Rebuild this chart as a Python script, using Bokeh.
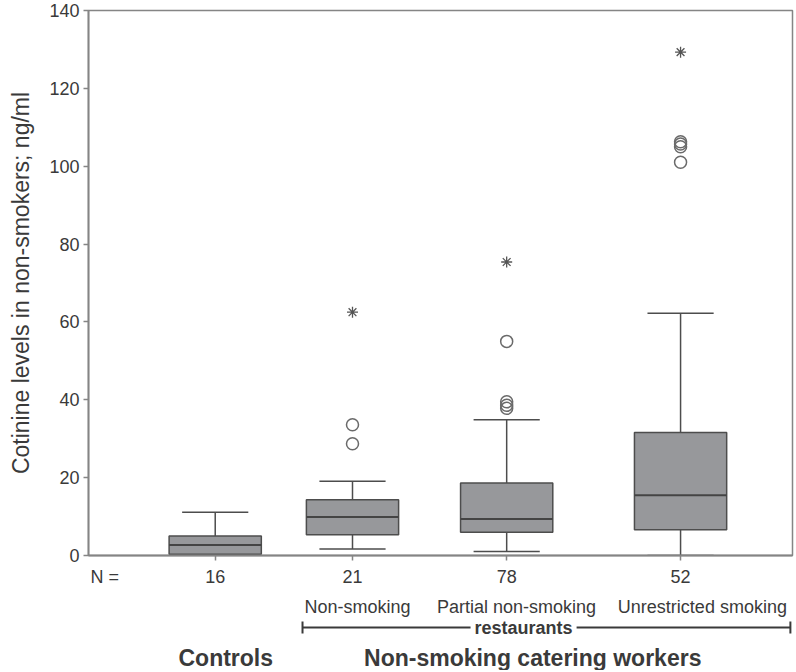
from bokeh.plotting import figure
from bokeh.models import Range1d, FixedTicker, ColumnDataSource
from bokeh.layouts import column
from bokeh.embed import file_html
from bokeh.resources import INLINE
from bokeh.core.properties import value
import numpy as np

# ---- data ----
groups = ["Controls", "Non-smoking", "Partial non-smoking", "Unrestricted smoking"]
n_counts = [16, 21, 78, 52]
whisker_low = [0.0, 1.7, 1.0, 0.0]
q1 = [0.3, 5.3, 6.0, 6.6]
median = [2.7, 9.9, 9.4, 15.5]
q3 = [5.0, 14.3, 18.6, 31.6]
whisker_high = [11.1, 19.1, 34.9, 62.2]

outlier_group = ["Non-smoking", "Non-smoking",
                 "Partial non-smoking", "Partial non-smoking", "Partial non-smoking", "Partial non-smoking",
                 "Unrestricted smoking", "Unrestricted smoking", "Unrestricted smoking", "Unrestricted smoking"]
outlier_value = [28.7, 33.6,
                 37.8, 38.6, 39.5, 55.0,
                 101.0, 105.0, 105.7, 106.3]
extreme_group = ["Non-smoking", "Partial non-smoking", "Unrestricted smoking"]
extreme_value = [62.5, 75.4, 129.3]

y_ticks = [0, 20, 40, 60, 80, 100, 120, 140]
sub_names = ["Non-smoking", "Partial non-smoking", "Unrestricted smoking"]
bracket_label = "restaurants"
group_titles = ["Controls", "Non-smoking catering workers"]

# ---- layout constants ----
W = 794
FRAME_L, FRAME_R, FRAME_T = 88, 2, 10
MAIN_H = 566
LOWER_H = 104

group_x = [18.0, 37.5, 59.4, 84.1]
pos = dict(zip(groups, group_x))
BOX_W = 13.1
CAP_HW = 4.7

FONT = "Liberation Sans"
TXT = "#3a3a3a"
AX = "#858585"
BOX_FILL = "#97989b"
BOX_LINE = "#4d4d4d"
MARK = "#6a6a6a"

p = figure(width=W, height=MAIN_H, output_backend="svg", toolbar_location=None,
           x_range=Range1d(0, 100), y_range=Range1d(0, 140))
p.min_border_left = FRAME_L
p.min_border_right = FRAME_R
p.min_border_top = FRAME_T
p.min_border_bottom = 11
p.xgrid.visible = False
p.ygrid.visible = False
p.outline_line_color = AX
p.outline_line_width = 1.5

gx = np.array(group_x)
src = ColumnDataSource(dict(x=gx, lo=whisker_low, q1=q1, med=median, q3=q3, hi=whisker_high,
                            x0=gx - BOX_W / 2, x1=gx + BOX_W / 2,
                            c0=gx - CAP_HW, c1=gx + CAP_HW))

p.segment(x0="x", y0="q3", x1="x", y1="hi", source=src, line_color=BOX_LINE, line_width=1.5)
p.segment(x0="x", y0="lo", x1="x", y1="q1", source=src, line_color=BOX_LINE, line_width=1.5)
p.segment(x0="c0", y0="hi", x1="c1", y1="hi", source=src, line_color=BOX_LINE, line_width=1.5)
p.segment(x0="c0", y0="lo", x1="c1", y1="lo", source=src, line_color=BOX_LINE, line_width=1.5)
p.vbar(x="x", width=BOX_W, bottom="q1", top="q3", source=src,
       fill_color=BOX_FILL, line_color=BOX_LINE, line_width=1.5)
p.segment(x0="x0", y0="med", x1="x1", y1="med", source=src, line_color="#444444", line_width=2)

p.scatter([pos[g] for g in outlier_group], outlier_value, marker="circle", size=12,
          fill_color=None, line_color=MARK, line_width=1.5)
p.scatter([pos[g] for g in extreme_group], extreme_value, marker="asterisk", size=11,
          line_color="#555555", line_width=1.3)

for ax in (p.xaxis[0], p.yaxis[0]):
    ax.axis_line_color = AX
    ax.axis_line_width = 1.8
    ax.major_tick_line_color = AX
    ax.major_tick_line_width = 1.5
    ax.major_tick_out = 5
    ax.major_tick_in = 0
    ax.minor_tick_line_color = None
    ax.major_label_text_font = FONT
    ax.major_label_text_font_size = "18px"
    ax.major_label_text_color = TXT
    ax.major_label_standoff = 4

p.yaxis.ticker = FixedTicker(ticks=y_ticks)
p.yaxis.axis_label = "Cotinine levels in non-smokers; ng/ml"
p.yaxis.axis_label_text_font = FONT
p.yaxis.axis_label_text_font_size = "23px"
p.yaxis.axis_label_text_font_style = "normal"
p.yaxis.axis_label_text_color = TXT
p.yaxis.axis_label_standoff = 12

p.xaxis.ticker = FixedTicker(ticks=group_x)
p.xaxis.major_label_overrides = {x: "" for x in group_x}
p.xaxis.major_label_standoff = 0
p.xaxis.major_label_text_font_size = "1px"

# ---- lower panel for the texts under the axis (frame aligned with the main plot) ----
q = figure(width=W, height=LOWER_H, output_backend="svg", toolbar_location=None,
           x_axis_type=None, y_axis_type=None,
           x_range=p.x_range, y_range=Range1d(LOWER_H, 0))
q.min_border_left = FRAME_L
q.min_border_right = FRAME_R
q.min_border_top = 0
q.min_border_bottom = 0
q.grid.visible = False
q.outline_line_color = None

# N row
q.text(x=[0.3], y=[10], text=["N ="],
       text_font=value(FONT), text_font_size="18px", text_color=TXT,
       text_align="left", text_baseline="middle")
q.text(x=group_x, y=[10] * 4, text=[str(n) for n in n_counts],
       text_font=value(FONT), text_font_size="18px", text_color=TXT,
       text_align="center", text_baseline="middle")
# sub-category row
q.text(x=[38.2, 60.8, 87.2], y=[40] * 3, text=sub_names,
       text_font=value(FONT), text_font_size="18px", text_color=TXT,
       text_align="center", text_baseline="middle")
# bracket
BR_Y = 61
q.segment(x0=[30.4, 30.4, 99.7], y0=[BR_Y, BR_Y - 6, BR_Y - 6],
          x1=[99.7, 30.4, 99.7], y1=[BR_Y, BR_Y + 6, BR_Y + 6],
          line_color="#3a3a3a", line_width=2)
q.text(x=[61.8], y=[BR_Y], text=[bracket_label],
       text_font=value(FONT), text_font_size="18px", text_font_style="bold", text_color=TXT,
       text_align="center", text_baseline="middle",
       background_fill_color="white", padding=4)
# group titles
q.text(x=[19.5, 63.1], y=[91, 91], text=group_titles,
       text_font=value(FONT), text_font_size="23px", text_font_style="bold", text_color=TXT,
       text_align="center", text_baseline="middle")

layout = column(p, q, spacing=0)
open("out.html", "w").write(file_html(layout, INLINE))
